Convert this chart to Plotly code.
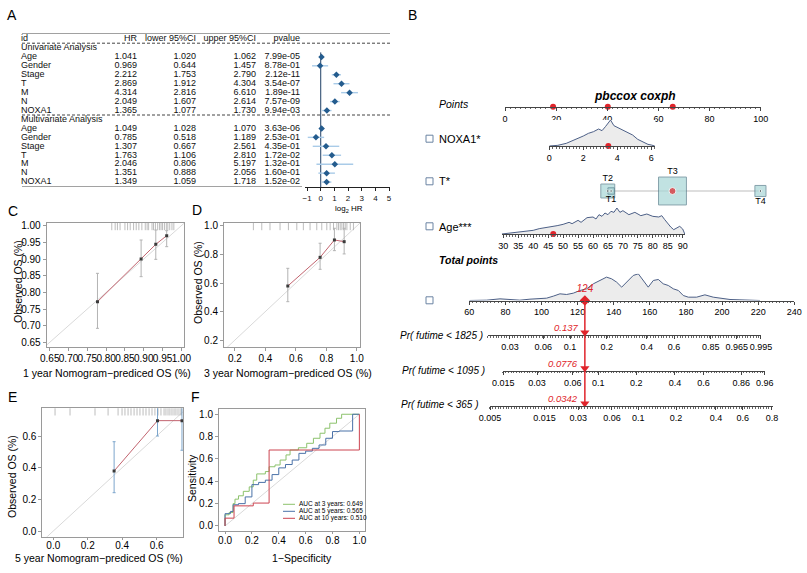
import numpy as np
import plotly.graph_objects as go

W, H = 807, 573
FONT = "Liberation Sans, Arial, Helvetica, sans-serif"
RED = "#e0242b"
DENS = "#4c5f86"

# ---------------- A: cox regression table ----------------
variables = ["Age", "Gender", "Stage", "T", "M", "N", "NOXA1"]
uni_hr = [1.041, 0.969, 2.212, 2.869, 4.314, 2.049, 1.365]
uni_lower = [1.020, 0.644, 1.753, 1.912, 2.816, 1.607, 1.077]
uni_upper = [1.062, 1.457, 2.790, 4.304, 6.610, 2.614, 1.730]
uni_p = [7.99e-05, 8.78e-01, 2.12e-11, 3.54e-07, 1.89e-11, 7.57e-09, 9.94e-03]
multi_hr = [1.049, 0.785, 1.307, 1.763, 2.046, 1.351, 1.349]
multi_lower = [1.028, 0.518, 0.667, 1.106, 0.806, 0.888, 1.059]
multi_upper = [1.070, 1.189, 2.561, 2.810, 5.197, 2.056, 1.718]
multi_p = [3.63e-06, 2.53e-01, 4.35e-01, 1.72e-02, 1.32e-01, 1.60e-01, 1.52e-02]
table_header = ["id", "HR", "lower 95%CI", "upper 95%CI", "pvalue"]
forest_ticks = [-1, 0, 1, 2, 3, 4, 5]

# ---------------- B: nomogram ----------------
points_ticks = [0, 20, 40, 60, 80, 100]
patient_points = [18.8, 40.2, 65.6]  # Age, NOXA1, T
noxa1_grid = [0.0, 0.5, 1.0, 1.5, 2.0, 2.3, 2.6, 2.9, 3.1, 3.3, 3.5, 3.6, 3.8, 4.0, 4.3,
              4.6, 4.9, 5.2, 5.5, 5.8, 6.0, 6.2]
noxa1_density = [0, 2, 8, 18, 30, 38, 43, 51, 46, 58, 73, 78, 61, 56, 48, 40, 33, 20, 12, 5, 3, 0]
noxa1_ticks = [0, 2, 4, 6]
patient_noxa1 = 3.47
t_levels = ["T1", "T2", "T3", "T4"]
t_points = [41.5, 40.2, 65.5, 99.9]
t_share = [4, 19, 76, 12]
patient_t = "T3"
age_grid = [29.5, 32, 35, 38, 40, 42, 44, 46, 48, 50, 52, 53, 55, 56, 58, 60, 61, 62, 63, 64,
            65, 66, 67, 68, 69, 70, 72, 74, 76, 78, 80, 82, 83, 84, 85, 86, 87, 88, 89, 90, 90.7]
age_density = [0, 3, 5, 8, 11, 16, 19, 20, 25, 29, 35, 31, 41, 35, 49, 51, 45, 58, 53, 63,
               58, 68, 65, 78, 65, 70, 58, 65, 55, 60, 53, 51, 55, 43, 31, 21, 13, 18, 23, 15, 0]
age_ticks = list(range(30, 91, 5))
patient_age = 46.7
total_grid = [60, 69.6, 77, 82.5, 88, 93.6, 97.3, 102.8, 106.5, 110.2, 113.9, 117.6, 121.3, 125,
              128.7, 132.3, 136, 138.8, 141.6, 144.4, 147.1, 150.8, 153.6, 156.4, 159.1, 161.9,
              164.7, 167.4, 170.2, 173, 175.8, 178.5, 181.3, 185.9, 190.5, 195.1, 199.8, 204.4,
              209.9, 217.3, 221]
total_density = [0, 1, 5, 4, 1, 4, 5, 7, 13, 20, 18, 22, 30, 35, 50, 60, 70, 65, 55, 40, 55, 75,
                 80, 60, 40, 60, 63, 50, 45, 35, 30, 15, 10, 10, 17, 10, 7, 3, 2, 0, 0]
total_ticks = list(range(60, 241, 20))
patient_total = 124
pr1825_labels = ["0.03", "0.06", "0.1", "0.2", "0.4", "0.6", "0.85", "0.965", "0.995"]
pr1825_pts = [82.5, 100.9, 115.8, 136.1, 158.3, 173.4, 193.7, 208.1, 221.5]
pr1095_labels = ["0.015", "0.03", "0.06", "0.1", "0.2", "0.4", "0.6", "0.86", "0.96"]
pr1095_pts = [78.8, 97.5, 117.3, 131.4, 152.5, 173.9, 189.7, 210.6, 223.7]
pr365_labels = ["0.005", "0.015", "0.03", "0.06", "0.1", "0.2", "0.4", "0.6", "0.8"]
pr365_pts = [71.5, 101.6, 120.3, 139.0, 153.6, 174.5, 196.6, 211.5, 227.6]
pr_spans = [(70.3, 221.5), (78.6, 223.7), (71.4, 228.0)]
pr_names = ["Pr( futime < 1825 )", "Pr( futime < 1095 )", "Pr( futime < 365 )"]
patient_pr = ["0.137", "0.0776", "0.0342"]

# ---------------- C/D/E: calibration ----------------
pred_1y = [0.777, 0.893, 0.932, 0.961]
obs_1y = [0.772, 0.900, 0.944, 0.970]
lo_1y = [0.692, 0.847, 0.899, 0.937]
hi_1y = [0.857, 0.957, 0.987, 0.985]
rug_1y = [0.815, 0.824, 0.830, 0.837, 0.850, 0.857, 0.864, 0.873, 0.880, 0.887, 0.895, 0.904,
          0.909, 0.913, 0.922, 0.926, 0.931, 0.937, 0.942, 0.946, 0.950, 0.955, 0.960, 0.964,
          0.969, 0.975, 0.980]
pred_3y = [0.547, 0.759, 0.853, 0.917]
obs_3y = [0.579, 0.780, 0.902, 0.890]
lo_3y = [0.469, 0.696, 0.827, 0.804]
hi_3y = [0.703, 0.879, 0.984, 0.984]
rug_3y = [0.321, 0.376, 0.430, 0.496, 0.551, 0.606, 0.649, 0.693, 0.737, 0.770, 0.803, 0.825,
          0.847, 0.869, 0.880, 0.891, 0.902, 0.913, 0.924, 0.935, 0.957, 0.978]
pred_5y = [0.353, 0.605, 0.747]
obs_5y = [0.379, 0.697, 0.697]
lo_5y = [0.242, 0.600, 0.510]
hi_5y = [0.564, 0.800, 0.800]
rug_5y = [0.01, 0.097, 0.242, 0.318, 0.376, 0.399, 0.416, 0.434, 0.451, 0.469, 0.486, 0.503,
          0.521, 0.538, 0.556, 0.573, 0.590, 0.608, 0.625, 0.643, 0.654, 0.666, 0.677, 0.689,
          0.701, 0.712, 0.724, 0.736, 0.744]

# ---------------- F: ROC ----------------
roc3_fpr = [0, 0, 0.03, 0.06, 0.074, 0.10, 0.136, 0.18, 0.21, 0.236, 0.30, 0.328, 0.372, 0.41,
            0.454, 0.484, 0.546, 0.608, 0.658, 0.707, 0.744, 0.78, 0.83, 0.868, 1.0]
roc3_tpr = [0, 0.10, 0.12, 0.20, 0.24, 0.27, 0.31, 0.35, 0.41, 0.466, 0.487, 0.53, 0.546, 0.59,
            0.636, 0.68, 0.70, 0.74, 0.785, 0.83, 0.875, 0.92, 0.964, 1.0, 1.0]
roc5_fpr = [0, 0, 0.04, 0.06, 0.10, 0.15, 0.20, 0.25, 0.30, 0.35, 0.40, 0.45, 0.50, 0.55, 0.60,
            0.65, 0.70, 0.75, 0.80, 0.85, 0.95, 0.95, 1.0]
roc5_tpr = [0, 0.11, 0.13, 0.19, 0.20, 0.26, 0.37, 0.39, 0.41, 0.46, 0.52, 0.55, 0.59, 0.65, 0.67,
            0.695, 0.725, 0.785, 0.845, 0.85, 0.85, 1.0, 1.0]
roc10_fpr = [0, 0, 0.067, 0.21, 0.328, 1.0, 1.0]
roc10_tpr = [0, 0.07, 0.18, 0.205, 0.68, 0.68, 1.0]
auc_labels = ["AUC at 3 years: 0.649", "AUC at 5 years: 0.565", "AUC at 10 years: 0.510"]
roc_colors = ["#8cc26c", "#4a72a8", "#cc4450"]


def xdom(a, b):
    return [a / W, b / W]


def ydom(bottom, top):
    return [1 - bottom / H, 1 - top / H]


def note(text, x, y, size=10, xanchor="center", angle=0, color="black"):
    return dict(text=text, x=x / W, y=1 - y / H, xref="paper", yref="paper", showarrow=False,
                xanchor=xanchor, yanchor="middle", textangle=angle,
                font=dict(size=size, color=color, family=FONT))


def tp_px(tp):
    # total points -> pixel x along the total points axis
    return 469.3 + (tp - 60) * 325.0 / 180.0


fig = go.Figure()
shapes, annotations = [], []
hidden = dict(visible=False, showgrid=False, zeroline=False, fixedrange=True, automargin=False)
lay = {}

# ---------- A ----------
rows_uni = list(range(2, 9))
rows_multi = list(range(10, 17))
lay["xaxis"] = dict(hidden, domain=[0, 1], range=[0, W], anchor="y")
lay["yaxis"] = dict(hidden, domain=ydom(187, 33), range=[16.55, -0.67], anchor="x")

id_text = [table_header[0], "Univariate Analysis"] + variables + ["Multivariate Analysis"] + variables
fig.add_trace(go.Scatter(x=[21] * len(id_text), y=list(range(17)), mode="text", text=id_text,
                         textposition="middle right", xaxis="x", yaxis="y",
                         textfont=dict(size=9, color="#111", family=FONT), hoverinfo="skip"))
columns = [(uni_hr, multi_hr, "{:.3f}", 137), (uni_lower, multi_lower, "{:.3f}", 196),
           (uni_upper, multi_upper, "{:.3f}", 256), (uni_p, multi_p, "{:.2e}", 300)]
for k, (u, m, f, cx) in enumerate(columns):
    txt = [table_header[k + 1]] + [f.format(v) for v in u] + [f.format(v) for v in m]
    fig.add_trace(go.Scatter(x=[cx] * len(txt), y=[0] + rows_uni + rows_multi, mode="text", text=txt,
                             textposition="middle left", xaxis="x", yaxis="y",
                             textfont=dict(size=9, color="#111", family=FONT), hoverinfo="skip"))

for yv, dash, x1 in [(-0.67, "solid", 390), (0.47, "dash", 390), (8.5, "dash", 390), (16.55, "solid", 302)]:
    shapes.append(dict(type="line", xref="paper", yref="y", x0=22 / W, x1=x1 / W, y0=yv, y1=yv,
                       line=dict(color="#444", width=1, dash=dash if dash == "solid" else "3px,2px")))

log_hr = np.log2(uni_hr + multi_hr)
log_lo = np.log2(uni_lower + multi_lower)
log_hi = np.log2(uni_upper + multi_upper)
fig.add_trace(go.Scatter(x=log_hr, y=rows_uni + rows_multi, mode="markers", xaxis="x2", yaxis="y",
                         marker=dict(symbol="diamond", size=5, color="#245c8e"),
                         error_x=dict(type="data", symmetric=False, array=log_hi - log_hr,
                                      arrayminus=log_hr - log_lo, width=0, thickness=1.4,
                                      color="#a9cbe8")))
lay["xaxis2"] = dict(domain=xdom(305, 390), range=[-1.15, 5.07], anchor="y", showline=True,
                     linecolor="#222", linewidth=1, ticks="outside", ticklen=3, tickcolor="#222",
                     tickvals=forest_ticks, tickfont=dict(size=8, color="#111", family=FONT),
                     showgrid=False, zeroline=False, automargin=False)
shapes.append(dict(type="line", xref="x2", yref="y", x0=0, x1=0, y0=1.5, y1=16.55, layer="below",
                   line=dict(color="#1f3f66", width=1)))
annotations.append(note("log<sub>2</sub> HR", 349, 209, size=8))

# ---------- B: nomogram ----------
def nomo_x(dom, rng, anchor, tickvals, ticktext=None, minor_vals=None):
    return dict(domain=dom, range=rng, anchor=anchor, showline=True, linecolor="#444", linewidth=1,
                ticks="outside", ticklen=3, tickcolor="#444", tickvals=tickvals, ticktext=ticktext,
                tickfont=dict(size=9, color="black", family=FONT), showgrid=False, zeroline=False,
                tickangle=0, automargin=False,
                minor=dict(tickmode="array", tickvals=minor_vals, ticks="outside", ticklen=1.5,
                           tickcolor="#666", showgrid=False))


lay["xaxis3"] = nomo_x(xdom(505, 760.7), [0, 100], "y3", points_ticks,
                       minor_vals=list(np.arange(0, 100.1, 2)))
lay["yaxis3"] = dict(hidden, domain=ydom(106.7, 98), range=[0, 1], anchor="x3")
fig.add_trace(go.Scatter(x=patient_points, y=[0] * 3, mode="markers", xaxis="x3", yaxis="y3",
                         marker=dict(color=RED, size=6), cliponaxis=False))

lay["xaxis4"] = nomo_x(xdom(549.3, 655.4), [0, 6.24], "y4", noxa1_ticks,
                       minor_vals=list(np.arange(0, 6.21, 0.2)))
lay["yaxis4"] = dict(hidden, domain=ydom(146, 120), range=[0, 78], anchor="x4")
fig.add_trace(go.Scatter(x=noxa1_grid, y=noxa1_density, mode="lines", fill="tozeroy",
                         fillcolor="#ececec", line=dict(color=DENS, width=1), xaxis="x4", yaxis="y4"))
fig.add_trace(go.Scatter(x=[patient_noxa1], y=[0], mode="markers", xaxis="x4", yaxis="y4",
                         marker=dict(color=RED, size=6), cliponaxis=False))

# T row: y5 spans 44 px over 4.4 units -> 10 px per unit, 0 at the box centres
lay["xaxis5"] = dict(hidden, domain=xdom(505, 760.7), range=[0, 100], anchor="y5")
lay["yaxis5"] = dict(hidden, domain=ydom(213, 169), range=[-2.2, 2.2], anchor="x5")
fig.add_trace(go.Scatter(x=[min(t_points), max(t_points)], y=[0, 0], mode="lines",
                         line=dict(color="#bdbdbd", width=1), xaxis="x5", yaxis="y5"))
box_px = [3.2 * np.sqrt(s) for s in t_share]
order = list(np.argsort(t_share)[::-1])
fig.add_trace(go.Scatter(x=[t_points[i] for i in order], y=[0] * 4, mode="markers",
                         marker=dict(symbol="square", size=[box_px[i] for i in order],
                                     color="#a8d7d7", line=dict(color="#557c8a", width=1)),
                         xaxis="x5", yaxis="y5", cliponaxis=False))
fig.add_trace(go.Scatter(x=t_points, y=[0] * 4, mode="markers", xaxis="x5", yaxis="y5",
                         marker=dict(color=[RED if t == patient_t else "#222" for t in t_levels],
                                     size=[7 if t == patient_t else 2.5 for t in t_levels]),
                         cliponaxis=False))
t_above = {"T1": False, "T2": True, "T3": True, "T4": False}
t_label_y = [(1 if t_above[t] else -1) * (b / 2 + 5.5) / 10.0 for t, b in zip(t_levels, box_px)]
fig.add_trace(go.Scatter(x=t_points, y=t_label_y, mode="text", text=t_levels,
                         textfont=dict(size=9, color="black", family=FONT),
                         xaxis="x5", yaxis="y5", cliponaxis=False))

lay["xaxis6"] = nomo_x(xdom(501.7, 685), [29.46, 90.77], "y6", age_ticks,
                       minor_vals=list(range(30, 91)))
lay["yaxis6"] = dict(hidden, domain=ydom(234, 208), range=[0, 78], anchor="x6")
fig.add_trace(go.Scatter(x=age_grid, y=age_density, mode="lines", fill="tozeroy",
                         fillcolor="#ececec", line=dict(color=DENS, width=1), xaxis="x6", yaxis="y6"))
fig.add_trace(go.Scatter(x=[patient_age], y=[0], mode="markers", xaxis="x6", yaxis="y6",
                         marker=dict(color=RED, size=6), cliponaxis=False))

lay["xaxis7"] = nomo_x(xdom(469.3, 794.3), [60, 240], "y7", total_ticks,
                       minor_vals=list(np.arange(60, 240.1, 2)))
lay["yaxis7"] = dict(hidden, domain=ydom(300.5, 273.8), range=[0, 80], anchor="x7")
fig.add_trace(go.Scatter(x=total_grid, y=total_density, mode="lines", fill="tozeroy",
                         fillcolor="#ececec", line=dict(color=DENS, width=1), xaxis="x7", yaxis="y7"))
shapes.append(dict(type="line", xref="x7", yref="paper", x0=patient_total, x1=patient_total,
                   y0=1 - 301 / H, y1=1 - 405 / H, line=dict(color=RED, width=1.5)))
fig.add_trace(go.Scatter(x=[patient_total], y=[0], mode="markers+text", xaxis="x7", yaxis="y7",
                         text=["<i>%d</i>" % patient_total], textposition="top center",
                         textfont=dict(size=10, color=RED, family=FONT),
                         marker=dict(symbol="diamond", color=RED, size=8), cliponaxis=False))

pr_ticks = [(pr1825_pts, pr1825_labels), (pr1095_pts, pr1095_labels), (pr365_pts, pr365_labels)]
pr_lines_px = [335, 370.7, 406]
for k in range(3):
    ax = 8 + k
    a, b = pr_spans[k]
    vals, labs = pr_ticks[k]
    lay["xaxis%d" % ax] = nomo_x(xdom(tp_px(a), tp_px(b)), [a, b], "y%d" % ax, vals, labs,
                                 minor_vals=list(np.arange(a, b + 0.01, 1.5)))
    lay["yaxis%d" % ax] = dict(hidden, domain=ydom(pr_lines_px[k], pr_lines_px[k] - 10),
                               range=[0, 1], anchor="x%d" % ax)
    fig.add_trace(go.Scatter(x=[patient_total], y=[0.25], mode="markers", xaxis="x%d" % ax,
                             yaxis="y%d" % ax,
                             marker=dict(symbol="triangle-down", color=RED, size=8), cliponaxis=False))
    annotations.append(dict(text="<i>%s</i>" % patient_pr[k], x=patient_total, y=0.75,
                            xref="x%d" % ax, yref="y%d" % ax, xanchor="right", yanchor="middle",
                            xshift=-5, showarrow=False,
                            font=dict(size=9.5, color=RED, family=FONT)))

annotations += [
    note("<b><i>pbccox coxph</i></b>", 635, 96, size=12),
    note("<i>Points</i>", 437, 104, size=10.5, xanchor="left"),
    note("NOXA1*", 437, 138.5, size=11, xanchor="left"),
    note("T*", 437, 181.5, size=11, xanchor="left"),
    note("Age***", 437, 226.5, size=11, xanchor="left"),
    note("<b><i>Total points</i></b>", 437, 260, size=10.5, xanchor="left"),
]
for k, (xr, yy) in enumerate([(485, 335), (487, 370), (481, 404)]):
    annotations.append(note("<i>%s</i>" % pr_names[k], xr, yy, size=10, xanchor="right"))
for cy in [138.7, 181.3, 226.3, 300.3]:
    shapes.append(dict(type="rect", xref="paper", yref="paper", x0=426 / W, x1=433 / W,
                       y0=1 - (cy + 3.5) / H, y1=1 - (cy - 3.5) / H,
                       line=dict(color="#6b84a3", width=1)))

# ---------- C / D / E calibration ----------
def cal_axes(n, xd, yd, xr, yr, tick0, dtick, fmt, tlen=3, standoff=0):
    base = dict(showline=True, mirror=True, linecolor="#9a9a9a", linewidth=1, ticks="outside",
                ticklen=3, tickcolor="#9a9a9a", tick0=tick0, dtick=dtick, tickformat=fmt,
                tickfont=dict(size=10, color="black", family=FONT), showgrid=False,
                zeroline=False, tickangle=0, fixedrange=True, automargin=False)
    lay["xaxis%d" % n] = dict(base, domain=xd, range=xr, anchor="y%d" % n, ticklen=tlen,
                              ticklabelstandoff=standoff)
    lay["yaxis%d" % n] = dict(base, domain=yd, range=yr, anchor="x%d" % n)


panels = [
    (11, (46.7, 184), (347, 223), [0.642, 1.007], [0.636, 1.008], 0.65, 0.05, ".2f", 3, -1,
     pred_1y, obs_1y, lo_1y, hi_1y, rug_1y),
    (12, (224, 360), (347, 223), [0.128, 1.021], [0.151, 1.021], 0.2, 0.2, ".1f", 3, -1,
     pred_3y, obs_3y, lo_3y, hi_3y, rug_3y),
    (13, (42.3, 183), (536.7, 408.3), [-0.064, 0.753], [-0.036, 0.775], 0, 0.2, ".1f", 2, -3,
     pred_5y, obs_5y, lo_5y, hi_5y, rug_5y),
]
for n, xd, yd, xr, yr, t0, dt, fmt, tl, so, pr, ob, lo, hi, rug in panels:
    cal_axes(n, xdom(*xd), ydom(*yd), xr, yr, t0, dt, fmt, tl, so)
    xa, ya = "x%d" % n, "y%d" % n
    fig.add_trace(go.Scatter(x=[-0.1, 1.1], y=[-0.1, 1.1], mode="lines", xaxis=xa, yaxis=ya,
                             line=dict(color="#d9d9d9", width=1)))
    rug_y = yr[1] - (yr[1] - yr[0]) * 3.0 / (yd[0] - yd[1])
    fig.add_trace(go.Scatter(x=rug, y=[rug_y] * len(rug), mode="markers", xaxis=xa, yaxis=ya,
                             marker=dict(symbol="line-ns", size=6,
                                         line=dict(color="#a0a0a0", width=0.7))))
    ob_a, lo_a, hi_a = np.array(ob), np.array(lo), np.array(hi)
    err_col = "#7da6cc" if n == 13 else "#b3b3b3"
    fig.add_trace(go.Scatter(x=pr, y=ob, mode="lines+markers", xaxis=xa, yaxis=ya,
                             line=dict(color="#c2646f", width=1),
                             marker=dict(symbol="square", size=3, color="#3a3a3a"),
                             error_y=dict(type="data", symmetric=False, array=hi_a - ob_a,
                                          arrayminus=ob_a - lo_a, color=err_col, thickness=1,
                                          width=1.5)))

annotations += [
    note("Observed OS (%)", 18, 282, size=10.5, angle=-90),
    note("1 year Nomogram\u2212prediced OS (%)", 107, 373, size=10.5),
    note("Observed OS (%)", 198, 283, size=10.5, angle=-90),
    note("3 year Nomogram\u2212prediced OS (%)", 288, 373, size=10.5),
    note("Observed OS (%)", 12, 477, size=10.5, angle=-90),
    note("5 year Nomogram\u2212prediced OS (%)", 99, 558, size=10.5),
    note("Sensitivity", 192, 478, size=10.5, angle=-90),
    note("1\u2212Specificity", 302, 558, size=10.5),
]

# ---------- F: ROC ----------
cal_axes(14, xdom(219, 365.4), ydom(531, 409), [-0.045, 1.045], [-0.045, 1.047], 0, 0.2, ".1f", 2, -2)
fig.add_trace(go.Scatter(x=[0, 1], y=[0, 1], mode="lines", xaxis="x14", yaxis="y14",
                         line=dict(color="#d9d9d9", width=1)))
for fpr, tpr, col in [(roc3_fpr, roc3_tpr, roc_colors[0]), (roc5_fpr, roc5_tpr, roc_colors[1]),
                      (roc10_fpr, roc10_tpr, roc_colors[2])]:
    fig.add_trace(go.Scatter(x=fpr, y=tpr, mode="lines", line=dict(color=col, width=1, shape="hv"),
                             xaxis="x14", yaxis="y14"))
for k, yy in enumerate([504.3, 511.3, 518.3]):
    shapes.append(dict(type="line", xref="paper", yref="paper", x0=283 / W, x1=295 / W,
                       y0=1 - yy / H, y1=1 - yy / H, line=dict(color=roc_colors[k], width=1)))
    annotations.append(note(auc_labels[k], 296.5, yy, size=6.5, xanchor="left"))

# ---------- panel letters ----------
for lab, x, y in [("A", 12, 15), ("B", 413, 15), ("C", 13, 211), ("D", 197, 210),
                  ("E", 13, 397), ("F", 195, 397)]:
    annotations.append(note(lab, x, y, size=14))

fig.update_layout(template="none", width=W, height=H, margin=dict(l=0, r=0, t=0, b=0),
                  showlegend=False, paper_bgcolor="white", plot_bgcolor="white",
                  font=dict(family=FONT), shapes=shapes, annotations=annotations,
                  hovermode=False, **lay)
fig.update_traces(hoverinfo="skip")
fig.write_html("out.html", config={"displayModeBar": False},
               post_script="document.body.style.margin='0px';")
